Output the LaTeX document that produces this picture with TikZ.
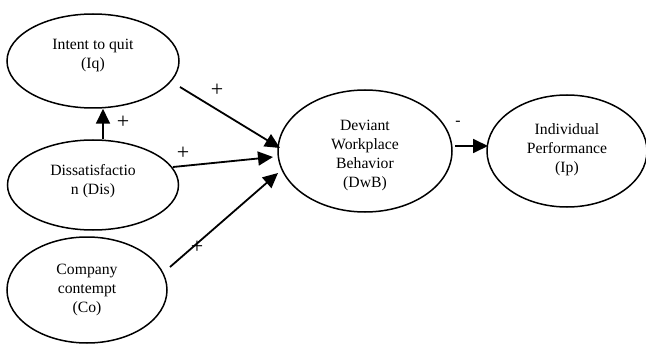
\documentclass[tikz,border=0pt]{standalone}
\usepackage{fontspec}
\setmainfont{Liberation Serif}
\usetikzlibrary{arrows.meta,calc,shapes.geometric}
\begin{document}
\begin{tikzpicture}[x=1pt,y=-1pt,
  oval/.style={ellipse,draw,line width=1.5pt,inner sep=0pt},
  txt/.style={align=center,font=\fontsize{15.7}{19}\selectfont,inner sep=0pt},
  sign/.style={font=\fontsize{22}{22}\selectfont,inner sep=0pt},
  arr/.style={line width=1.8pt,-{Triangle[length=15pt,width=14pt]}}]
\useasboundingbox (0,0) rectangle (646,345);
\node[oval,minimum width=172pt,minimum height=94pt] (iq) at (93,61) {};
\node[oval,minimum width=171pt,minimum height=90pt] (dis) at (93,185) {};
\node[oval,minimum width=160pt,minimum height=106pt] (co) at (87,290) {};
\node[oval,minimum width=174pt,minimum height=122pt] (dwb) at (365,151) {};
\node[oval,minimum width=160pt,minimum height=112pt] (ip) at (567,151) {};
\node[txt] (iqt) at (93,55) {Intent to quit\\(Iq)};
\node[txt] (dist) at (93,181) {Dissatisfactio\\n (Dis)};
\node[txt] (cot) at (87,290) {Company\\contempt\\(Co)};
\node[txt] (dwbt) at (365,155) {Deviant\\Workplace\\Behavior\\(DwB)};
\node[txt] (ipt) at (567,150) {Individual\\Performance\\(Ip)};
\draw[arr] ($(iq.center)+(87,26)$) -- ($(dwb.center)+(-85,-3)$);
\draw[arr] ($(dis.north)+(10,0)$) -- ($(iq.south)+(10,0)$);
\draw[arr] ($(dis.center)+(80,-18)$) -- ($(dwb.center)+(-92,6)$);
\draw[arr] ($(co.center)+(83,-23)$) -- ($(dwb.center)+(-87,22)$);
\draw[arr] ($(dwb.center)+(90,-5)$) -- ($(ip.center)+(-79,-5)$);
\node[sign] (p1) at (217,90) {+};
\node[sign] (p2) at (123,122) {+};
\node[sign] (p3) at (183,153) {+};
\node[sign] (p4) at (197,247) {+};
\node[txt] (m1) at (458,123) {-};
\end{tikzpicture}
\end{document}
